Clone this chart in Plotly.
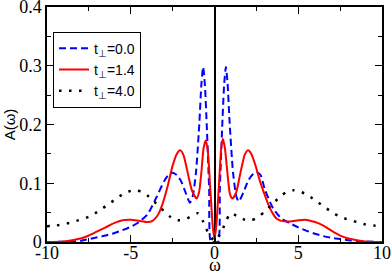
import plotly.graph_objects as go

# t_perp = 0.0 (blue dashed)
w_blue = [-10, -9, -8.5, -8, -7.5, -7, -6.5, -6, -5.5, -5, -4.5, -4, -3.5, -3, -2.75, -2.5, -2.25, -2, -1.75, -1.47,
          -1.3, -1.1, -0.9, -0.78, -0.68, -0.58, -0.45, -0.32, -0.22, 0,
          0.22, 0.32, 0.45, 0.58, 0.68, 0.78, 0.9, 1.1, 1.3, 1.45,
          1.75, 2, 2.25, 2.5, 2.75, 3, 3.5, 4, 4.5, 5, 5.5, 6, 6.5, 7, 7.5, 8, 8.5, 9, 10]
A_blue = [0.0, 0.0005, 0.001, 0.002, 0.005, 0.008, 0.011, 0.015, 0.020, 0.026, 0.034, 0.047, 0.074, 0.104, 0.114, 0.118, 0.114, 0.104, 0.086, 0.067,
          0.078, 0.12, 0.205, 0.27, 0.298, 0.27, 0.19, 0.09, 0.0, 0.0,
          0.0, 0.09, 0.19, 0.27, 0.298, 0.27, 0.205, 0.12, 0.078, 0.069,
          0.086, 0.104, 0.114, 0.119, 0.114, 0.090, 0.057, 0.040, 0.032, 0.025, 0.019, 0.014, 0.010, 0.007, 0.005, 0.003, 0.0015, 0.0008, 0.0]

# t_perp = 1.4 (red solid)
w_red = [-10, -9, -8.5, -8, -7.5, -7, -6.5, -6, -5.5, -5, -4.5, -4, -3.7, -3.4, -3.1, -2.8, -2.5, -2.25, -2.05, -1.85, -1.6, -1.35, -1.07,
         -0.92, -0.78, -0.65, -0.52, -0.4, -0.25, -0.1, 0,
         0.1, 0.25, 0.4, 0.5, 0.62, 0.78, 0.92, 1.07, 1.3, 1.55, 1.8, 2.0, 2.2, 2.45, 2.7, 3.0, 3.2, 3.45, 3.7,
         4.0, 4.5, 5.0, 5.4, 6.0, 6.5, 7.0, 7.5, 8.0, 8.5, 9, 10]
A_red = [0.0, 0.001, 0.003, 0.006, 0.011, 0.018, 0.025, 0.032, 0.037, 0.038, 0.036, 0.034, 0.036, 0.045, 0.065, 0.095, 0.130, 0.150, 0.156, 0.148, 0.118, 0.088, 0.074,
         0.085, 0.12, 0.160, 0.173, 0.155, 0.09, 0.025, 0.006,
         0.025, 0.09, 0.16, 0.176, 0.16, 0.115, 0.082, 0.074, 0.085, 0.118, 0.148, 0.156, 0.150, 0.130, 0.105, 0.080, 0.065, 0.050, 0.040,
         0.036, 0.035, 0.037, 0.038, 0.034, 0.028, 0.019, 0.011, 0.006, 0.003, 0.001, 0.0]

# t_perp = 4.0 (black dotted)
w_black = [-10, -9.5, -9, -8.5, -8, -7.5, -7, -6.5, -6, -5.5, -5, -4.7, -4.3, -4, -3.5, -3, -2.6, -2.2, -1.8, -1.3, -1.0, -0.85, -0.7, -0.5, -0.3, 0,
           0.3, 0.5, 0.7, 0.85, 1.0, 1.3, 1.8, 2.2, 2.6, 3, 3.5, 4, 4.3, 4.7, 5, 5.5, 6, 6.5, 7, 7.5, 8, 8.5, 9, 9.5, 10]
A_black = [0.027, 0.028, 0.030, 0.034, 0.038, 0.043, 0.051, 0.061, 0.071, 0.081, 0.087, 0.088, 0.085, 0.079, 0.066, 0.052, 0.042, 0.037, 0.038, 0.045, 0.049, 0.045, 0.036, 0.023, 0.012, 0.002,
           0.012, 0.023, 0.036, 0.045, 0.049, 0.045, 0.038, 0.037, 0.042, 0.052, 0.066, 0.079, 0.085, 0.088, 0.087, 0.081, 0.071, 0.061, 0.051, 0.043, 0.038, 0.034, 0.030, 0.028, 0.027]

labels = ["t<sub>⊥</sub>=0.0", "t<sub>⊥</sub>=1.4", "t<sub>⊥</sub>=4.0"]

x_ticks = [-10, -5, 0, 5, 10]
y_ticks = [0, 0.1, 0.2, 0.3, 0.4]
y_ticklabels = ["0", "0.1", "0.2", "0.3", "0.4"]

fig = go.Figure()
fig.add_trace(go.Scatter(x=w_blue, y=A_blue, mode="lines", name=labels[0], legendgroup="a",
                         line=dict(color="#0000ff", width=2, dash="7px,4px", shape="spline", smoothing=0.6)))
fig.add_trace(go.Scatter(x=w_red, y=A_red, mode="lines", name=labels[1], legendgroup="b",
                         line=dict(color="#ff0000", width=2, shape="spline", smoothing=0.6)))
fig.add_trace(go.Scatter(x=w_black, y=A_black, mode="lines", name=labels[2], legendgroup="c",
                         line=dict(color="#000000", width=2.5, dash="2.5px,7.5px", shape="spline", smoothing=0.6)))

serif = "Liberation Serif"
sans = "Liberation Sans"

fig.update_layout(
    width=392, height=275,
    margin=dict(l=47, r=10, t=7, b=33),
    paper_bgcolor="white", plot_bgcolor="white",
    showlegend=True,
    legend=dict(x=0.018, y=0.895, xanchor="left", yanchor="top",
                bordercolor="black", borderwidth=1, bgcolor="white",
                font=dict(family=sans, size=14, color="black"),
                tracegroupgap=0, itemwidth=30),
    xaxis=dict(range=[-10, 10], tickmode="array", tickvals=x_ticks, ticktext=[str(v) for v in x_ticks],
               automargin=False, ticklabelstandoff=-6, ticklabeloverflow="allow",
               ticks="inside", ticklen=7, tickwidth=1.2, tickcolor="black",
               minor=dict(ticks="inside", ticklen=4, tickwidth=1.2, dtick=2.5, tickcolor="black"),
               showline=True, linecolor="black", linewidth=1.5, mirror="allticks",
               showgrid=False, zeroline=True, zerolinecolor="black", zerolinewidth=1.5,
               tickfont=dict(family=serif, size=18, color="black")),
    yaxis=dict(range=[0, 0.4001], tickmode="array", tickvals=y_ticks, ticktext=y_ticklabels,
               automargin=False, ticklabeloverflow="allow",
               ticks="inside", ticklen=7, tickwidth=1.2, tickcolor="black",
               minor=dict(ticks="inside", ticklen=4, tickwidth=1.2, dtick=0.05, tickcolor="black"),
               showline=True, linecolor="black", linewidth=1.5, mirror="allticks",
               showgrid=False, zeroline=False,
               tickfont=dict(family=serif, size=18, color="black"),
               title=dict(text="A(ω)", font=dict(family=sans, size=15, color="black"), standoff=0)),
    annotations=[dict(text="ω", xref="x", yref="paper", x=0, y=0, yanchor="bottom", yshift=-35,
                      showarrow=False, font=dict(family=serif, size=18, color="black"))],
)

fig.write_html("out.html", config={"displayModeBar": False},
               post_script="document.body.style.margin='0';document.body.style.overflow='hidden';window.dispatchEvent(new Event('resize'));")
